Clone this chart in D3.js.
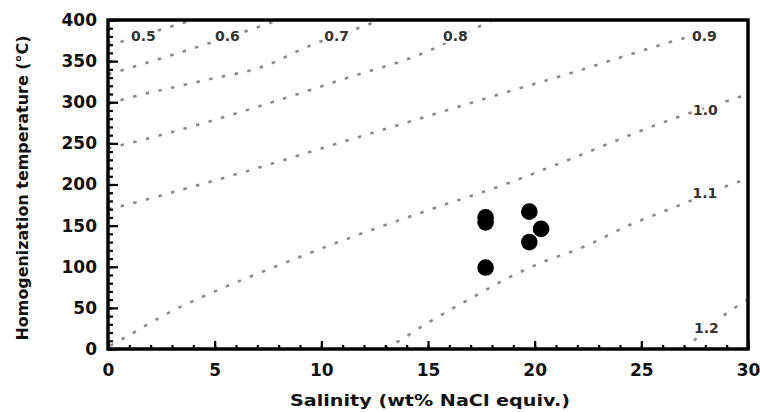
<!DOCTYPE html>
<html>
<head>
<meta charset="utf-8">
<script src="https://cdn.jsdelivr.net/npm/d3@7"></script>
<style>
html,body{margin:0;padding:0;background:#fff;}
svg{display:block;}
</style>
</head>
<body>
<svg id="chart" width="760" height="412"></svg>
<script>
// ---- data ----
const salinity = [17.7, 17.7, 17.7, 19.75, 20.3, 19.75];
const temperature = [160, 154, 99, 167, 146, 130];

const xTicks = [0, 5, 10, 15, 20, 25, 30];
const yTicks = [0, 50, 100, 150, 200, 250, 300, 350, 400];

// isochores (density g/cm3): [salinity, temperature]
const iso05 = [[0, 369], [0.66, 374], [3.2, 394], [4.0, 400]];
const iso06 = [[0, 334], [0.66, 339], [4.4, 369], [7.44, 395], [8.1, 401]];
const iso07 = [[0, 298], [0.66, 303], [4.4, 326], [7.44, 345], [9.3, 367], [11.7, 390], [12.9, 401]];
const iso08 = [[0, 244], [0.66, 248], [4.4, 274], [7.44, 298], [10.9, 327], [14.9, 361], [17.7, 396], [18.1, 401]];
const iso09 = [[0, 170], [0.66, 174], [3.23, 192], [6.35, 215], [10.9, 251], [15.6, 288], [18.0, 307], [21.5, 334], [26.75, 376], [27.3, 380]];
const iso10 = [[0.1, 4], [0.66, 12], [2.77, 43], [5.0, 70], [7.44, 96], [10.9, 131], [15.15, 170], [18.8, 202], [21.1, 225], [26.5, 280], [29.55, 306], [30, 310]];
const iso11 = [[13.0, 0], [13.5, 7.7], [15.07, 33], [17.17, 64], [18.8, 87], [20.5, 107], [22.0, 121], [24.57, 152], [27, 177], [29.3, 201], [30, 207]];
const iso12 = [[27.0, 0], [27.45, 10], [29.25, 48], [30, 60]];
const isochores = [iso05, iso06, iso07, iso08, iso09, iso10, iso11, iso12];

const isoLabels = ["0.5", "0.6", "0.7", "0.8", "0.9", "1.0", "1.1", "1.2"];
const isoLabelS = [1.66, 5.6, 10.72, 16.28, 27.96, 28.0, 27.98, 28.05];
const isoLabelT = [381, 381, 381, 381, 380, 290.5, 189.5, 26];

const xTitle = "Salinity (wt% NaCl equiv.)";
const yTitle = "Homogenization temperature (°C)";

// ---- layout ----
const svg = d3.select("#chart");
const L = 108, R = 748, T = 20, B = 349;
const x = d3.scaleLinear().domain([0, 30]).range([L, R]);
const y = d3.scaleLinear().domain([0, 400]).range([B, T]);

svg.append("defs").append("clipPath").attr("id", "clip")
  .append("rect").attr("x", L).attr("y", T).attr("width", R - L).attr("height", B - T);

// isochores
const line = d3.line().x(d => x(d[0])).y(d => y(d[1])).curve(d3.curveMonotoneX);
svg.append("g").attr("clip-path", "url(#clip)")
  .selectAll("path").data(isochores).join("path")
  .attr("d", line)
  .attr("fill", "none")
  .attr("stroke", "#8a8a8a")
  .attr("stroke-width", 2.6)
  .attr("stroke-dasharray", "3.5,9.5");

// isochore labels
const fontFam = "DejaVu Sans, sans-serif";
svg.append("g").selectAll("text").data(isoLabels).join("text")
  .attr("x", (d, i) => x(isoLabelS[i]))
  .attr("y", (d, i) => y(isoLabelT[i]))
  .attr("text-anchor", "middle")
  .attr("dominant-baseline", "central")
  .attr("font-family", fontFam)
  .attr("font-weight", "bold")
  .attr("font-size", 14)
  .attr("fill", "#333")
  .attr("stroke", "#fff").attr("stroke-width", 5).attr("paint-order", "stroke")
  .text(d => d);

// axes
const gx = svg.append("g").attr("transform", `translate(0,${B})`)
  .call(d3.axisBottom(x).tickValues(xTicks).tickSize(-8).tickPadding(15).tickFormat(d3.format("d")));
const gxm = svg.append("g").attr("transform", `translate(0,${B})`)
  .call(d3.axisBottom(x).tickValues(d3.range(0, 31, 1)).tickSize(-4).tickFormat(""));
const gy = svg.append("g").attr("transform", `translate(${L},0)`)
  .call(d3.axisLeft(y).tickValues(yTicks).tickSize(-10).tickPadding(11).tickFormat(d3.format("d")));
const gym = svg.append("g").attr("transform", `translate(${L},0)`)
  .call(d3.axisLeft(y).tickValues(d3.range(0, 401, 10)).tickSize(-5).tickFormat(""));

[gx, gxm, gy, gym].forEach(g => {
  g.select(".domain").remove();
  g.selectAll(".tick line").attr("stroke", "#000").attr("stroke-width", 2.2);
});
[gx, gy].forEach(g => {
  g.selectAll(".tick text")
    .attr("font-family", fontFam)
    .attr("font-weight", "bold")
    .attr("font-size", 17)
    .attr("fill", "#111");
});
gx.selectAll(".tick text").attr("dy", "0.71em");

// frame
svg.append("rect").attr("x", L).attr("y", T).attr("width", R - L).attr("height", B - T)
  .attr("fill", "none").attr("stroke", "#000").attr("stroke-width", 3.5);

// points
svg.append("g").selectAll("circle").data(salinity).join("circle")
  .attr("cx", d => x(d))
  .attr("cy", (d, i) => y(temperature[i]))
  .attr("r", 8.3)
  .attr("fill", "#000");

// titles
svg.append("text")
  .attr("x", 430).attr("y", 400)
  .attr("text-anchor", "middle").attr("dominant-baseline", "central")
  .attr("font-family", fontFam).attr("font-weight", "bold").attr("font-size", 16)
  .attr("textLength", 280).attr("lengthAdjust", "spacingAndGlyphs")
  .attr("fill", "#111")
  .text(xTitle);
svg.append("text")
  .attr("transform", `translate(23,188) rotate(-90)`)
  .attr("text-anchor", "middle").attr("dominant-baseline", "central")
  .attr("font-family", fontFam).attr("font-weight", "bold").attr("font-size", 15)
  .attr("textLength", 305).attr("lengthAdjust", "spacingAndGlyphs")
  .attr("fill", "#111")
  .text(yTitle);
</script>
</body>
</html>
